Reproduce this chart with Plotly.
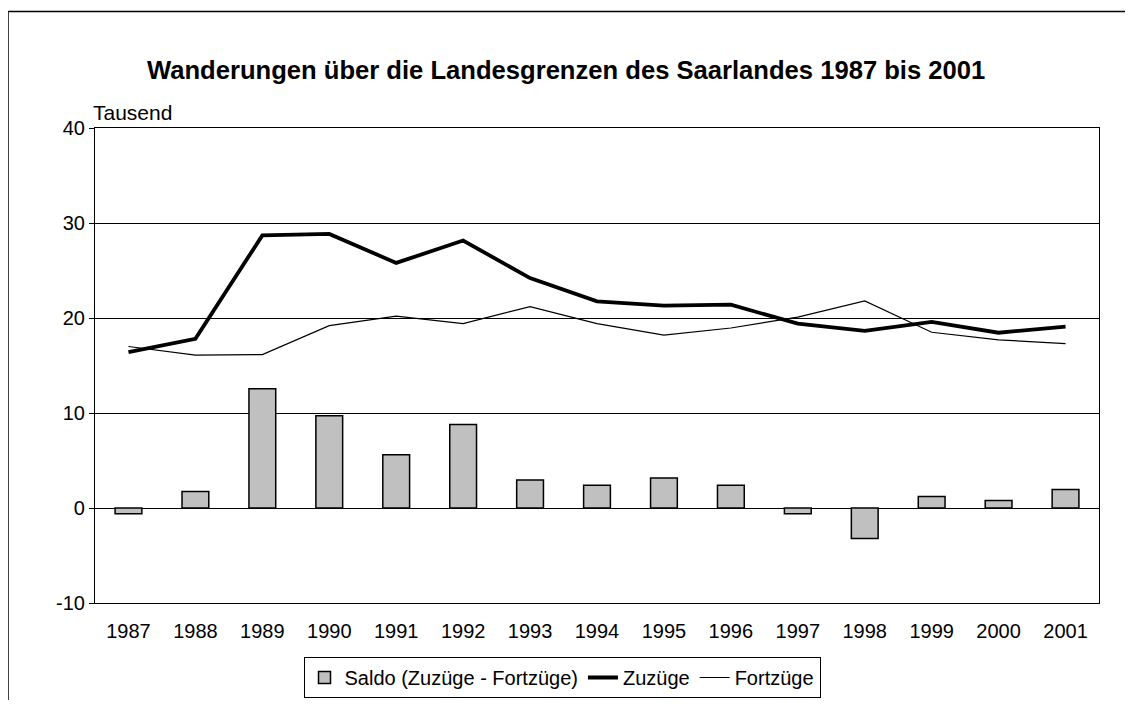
import plotly.graph_objects as go

years = ["1987", "1988", "1989", "1990", "1991", "1992", "1993", "1994",
         "1995", "1996", "1997", "1998", "1999", "2000", "2001"]
saldo = [-0.6, 1.75, 12.55, 9.7, 5.6, 8.8, 2.95, 2.4, 3.15, 2.4, -0.6, -3.2, 1.2, 0.8, 1.95]
zuzuege = [16.4, 17.8, 28.7, 28.85, 25.8, 28.15, 24.2, 21.75, 21.3, 21.4, 19.4, 18.65, 19.6, 18.45, 19.1]
fortzuege = [17.0, 16.1, 16.15, 19.2, 20.2, 19.4, 21.2, 19.4, 18.2, 18.95, 20.1, 21.8, 18.5, 17.7, 17.3]
y_ticks = [-10, 0, 10, 20, 30, 40]
y_tick_text = ["-10", "0", "10", "20", "30", "40"]

OFF = 8  # page body offset
W, H = 1133 - 2 * OFF, 708 - 2 * OFF
L, R, T, B = 95 - OFF, 1099 - OFF, 128 - OFF, 603 - OFF

def px(xp):
    return (xp - OFF - L) / (R - L)

def py(yp):
    return (B - (yp - OFF)) / (B - T)

font = "Liberation Sans, Arial, sans-serif"

fig = go.Figure()
fig.add_trace(go.Bar(x=years, y=saldo, name="Saldo (Zuzüge - Fortzüge)", width=0.4,
                     marker=dict(color="#C0C0C0", line=dict(color="black", width=1.5))))
fig.add_trace(go.Scatter(x=years, y=zuzuege, name="Zuzüge", mode="lines",
                         line=dict(color="black", width=3.8)))
fig.add_trace(go.Scatter(x=years, y=fortzuege, name="Fortzüge", mode="lines",
                         line=dict(color="black", width=1.2)))

fig.update_layout(
    width=W, height=H,
    margin=dict(l=L, r=W - R, t=T, b=H - B, autoexpand=False),
    paper_bgcolor="white", plot_bgcolor="white",
    font=dict(family=font, size=20, color="black"),
    showlegend=True,
    legend=dict(orientation="h", x=px(562), xanchor="center", y=py(657), yanchor="top",
                bordercolor="black", borderwidth=1, font=dict(size=20),
                tracegroupgap=0, itemwidth=30),
    bargap=0.6,
)
fig.update_xaxes(type="category", showline=True, linecolor="black", linewidth=1.2, mirror=True,
                 ticks="outside", ticklen=10, tickcolor="rgba(0,0,0,0)", showgrid=False,
                 tickfont=dict(size=20), automargin=False)
fig.update_yaxes(range=[-10, 40], tickvals=y_ticks, ticktext=y_tick_text, showline=True,
                 linecolor="black", linewidth=1.2,
                 mirror=True, ticks="outside", ticklen=5, tickcolor="black",
                 showgrid=True, gridcolor="black", gridwidth=1, zeroline=True, zerolinecolor="black",
                 zerolinewidth=1, tickfont=dict(size=20), automargin=False)

fig.add_annotation(text="<b>Wanderungen über die Landesgrenzen des Saarlandes 1987 bis 2001</b>",
                   xref="paper", yref="paper", x=px(566), y=py(70), xanchor="center", yanchor="middle",
                   showarrow=False, font=dict(size=25.6, family=font))
fig.add_annotation(text="Tausend", xref="paper", yref="paper", x=px(91), y=py(112),
                   xanchor="left", yanchor="middle", showarrow=False, font=dict(size=21, family=font))

fig.add_shape(type="rect", xref="paper", yref="paper", x0=px(8), y0=py(780), x1=px(1220), y1=py(11.5),
              line=dict(color="black", width=1.5), layer="below")

fig.write_html("out.html")
